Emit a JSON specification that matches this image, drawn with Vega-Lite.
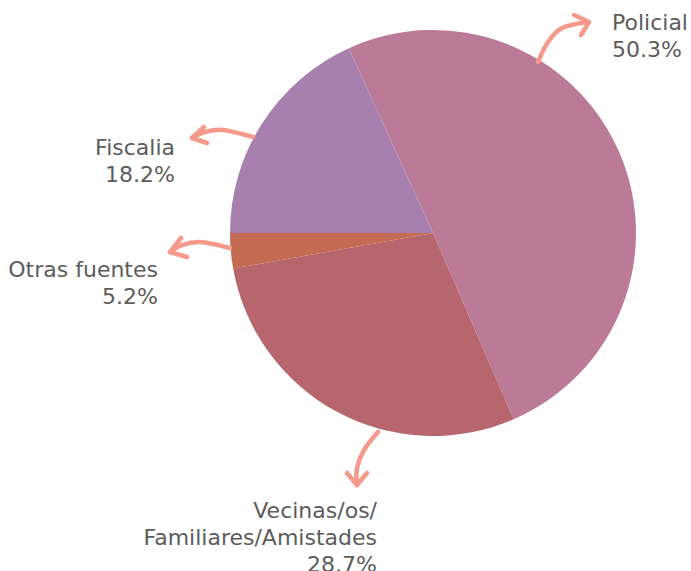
{
  "$schema": "https://vega.github.io/schema/vega-lite/v6.json",
  "width": 691,
  "height": 571,
  "autosize": {"type": "none"},
  "padding": 0,
  "background": "white",
  "config": {"view": {"stroke": null}},
  "datasets": {
    "slices": [
      {"category": "Policial", "value": 50.3, "ord": 1},
      {"category": "Vecinas/os/Familiares/Amistades", "value": 28.7, "ord": 2},
      {"category": "Otras fuentes", "value": 2.8, "ord": 3},
      {"category": "Fiscalia", "value": 18.2, "ord": 4}
    ],
    "labels": [
      {"category": "Policial", "lines": ["Policial", "50.3%"], "lx": 179, "ly": 203, "side": "left"},
      {"category": "Fiscalia", "lines": ["Fiscalia", "18.2%"], "lx": -258, "ly": 78, "side": "right"},
      {"category": "Otras fuentes", "lines": ["Otras fuentes", "5.2%"], "lx": -275, "ly": -44, "side": "right"},
      {"category": "Vecinas", "lines": ["Vecinas/os/", "Familiares/Amistades", "28.7%"], "lx": -56, "ly": -285, "side": "right"}
    ],
    "arrows": [
      {"arrow": "Policial", "part": "shaft", "i": 1, "ax": 105, "ay": 171},
      {"arrow": "Policial", "part": "shaft", "i": 2, "ax": 115, "ay": 191},
      {"arrow": "Policial", "part": "shaft", "i": 3, "ax": 129, "ay": 205},
      {"arrow": "Policial", "part": "shaft", "i": 4, "ax": 155, "ay": 211},
      {"arrow": "Policial", "part": "head", "i": 1, "ax": 141, "ay": 218},
      {"arrow": "Policial", "part": "head", "i": 2, "ax": 156, "ay": 211},
      {"arrow": "Policial", "part": "head", "i": 3, "ax": 148, "ay": 198},
      {"arrow": "Fiscalia", "part": "shaft", "i": 1, "ax": -180, "ay": 96},
      {"arrow": "Fiscalia", "part": "shaft", "i": 2, "ax": -210, "ay": 103},
      {"arrow": "Fiscalia", "part": "shaft", "i": 3, "ax": -228, "ay": 101},
      {"arrow": "Fiscalia", "part": "shaft", "i": 4, "ax": -241, "ay": 95},
      {"arrow": "Fiscalia", "part": "head", "i": 1, "ax": -229, "ay": 106},
      {"arrow": "Fiscalia", "part": "head", "i": 2, "ax": -241, "ay": 95},
      {"arrow": "Fiscalia", "part": "head", "i": 3, "ax": -226, "ay": 90},
      {"arrow": "Otras", "part": "shaft", "i": 1, "ax": -203, "ay": -15},
      {"arrow": "Otras", "part": "shaft", "i": 2, "ax": -233, "ay": -9},
      {"arrow": "Otras", "part": "shaft", "i": 3, "ax": -251, "ay": -12},
      {"arrow": "Otras", "part": "shaft", "i": 4, "ax": -263, "ay": -19},
      {"arrow": "Otras", "part": "head", "i": 1, "ax": -252, "ay": -5},
      {"arrow": "Otras", "part": "head", "i": 2, "ax": -263, "ay": -19},
      {"arrow": "Otras", "part": "head", "i": 3, "ax": -246, "ay": -24},
      {"arrow": "Vecinas", "part": "shaft", "i": 1, "ax": -55, "ay": -199},
      {"arrow": "Vecinas", "part": "shaft", "i": 2, "ax": -69, "ay": -217},
      {"arrow": "Vecinas", "part": "shaft", "i": 3, "ax": -76, "ay": -235},
      {"arrow": "Vecinas", "part": "shaft", "i": 4, "ax": -76, "ay": -252},
      {"arrow": "Vecinas", "part": "head", "i": 1, "ax": -86, "ay": -240},
      {"arrow": "Vecinas", "part": "head", "i": 2, "ax": -76, "ay": -252},
      {"arrow": "Vecinas", "part": "head", "i": 3, "ax": -66, "ay": -240}
    ]
  },
  "layer": [
    {
      "data": {"name": "slices"},
      "mark": {"type": "arc", "outerRadius": 203},
      "encoding": {
        "x": {"datum": 0, "type": "quantitative", "scale": {"domain": [-433, 258], "nice": false, "zero": false}, "axis": null},
        "y": {"datum": 0, "type": "quantitative", "scale": {"domain": [-338, 233], "nice": false, "zero": false}, "axis": null},
        "theta": {"field": "value", "type": "quantitative", "stack": true, "scale": {"range": [-0.4276, 5.8556]}},
        "order": {"field": "ord", "type": "quantitative"},
        "color": {
          "field": "category", "type": "nominal", "legend": null,
          "scale": {
            "domain": ["Policial", "Vecinas/os/Familiares/Amistades", "Otras fuentes", "Fiscalia"],
            "range": ["#bc7a99", "#b8666d", "#c56b52", "#a780b0"]
          }
        }
      }
    },
    {
      "data": {"name": "arrows"},
      "transform": [{"filter": "datum.part === 'shaft'"}],
      "mark": {"type": "line", "interpolate": "cardinal", "stroke": "#f59a8a", "strokeWidth": 4.5, "strokeCap": "round", "strokeJoin": "round"},
      "encoding": {
        "x": {"field": "ax", "type": "quantitative"},
        "y": {"field": "ay", "type": "quantitative"},
        "detail": {"field": "arrow"},
        "order": {"field": "i", "type": "quantitative"}
      }
    },
    {
      "data": {"name": "arrows"},
      "transform": [{"filter": "datum.part === 'head'"}],
      "mark": {"type": "line", "stroke": "#f59a8a", "strokeWidth": 4.5, "strokeCap": "round", "strokeJoin": "round"},
      "encoding": {
        "x": {"field": "ax", "type": "quantitative"},
        "y": {"field": "ay", "type": "quantitative"},
        "detail": {"field": "arrow"},
        "order": {"field": "i", "type": "quantitative"}
      }
    },
    {
      "data": {"name": "labels"},
      "transform": [{"filter": "datum.side === 'left'"}],
      "mark": {"type": "text", "align": "left", "baseline": "alphabetic", "font": "DejaVu Sans", "fontSize": 22, "lineHeight": 27, "fill": "#5c5c5c"},
      "encoding": {
        "x": {"field": "lx", "type": "quantitative"},
        "y": {"field": "ly", "type": "quantitative"},
        "text": {"field": "lines"}
      }
    },
    {
      "data": {"name": "labels"},
      "transform": [{"filter": "datum.side === 'right'"}],
      "mark": {"type": "text", "align": "right", "baseline": "alphabetic", "font": "DejaVu Sans", "fontSize": 22, "lineHeight": 27, "fill": "#5c5c5c"},
      "encoding": {
        "x": {"field": "lx", "type": "quantitative"},
        "y": {"field": "ly", "type": "quantitative"},
        "text": {"field": "lines"}
      }
    }
  ]
}
